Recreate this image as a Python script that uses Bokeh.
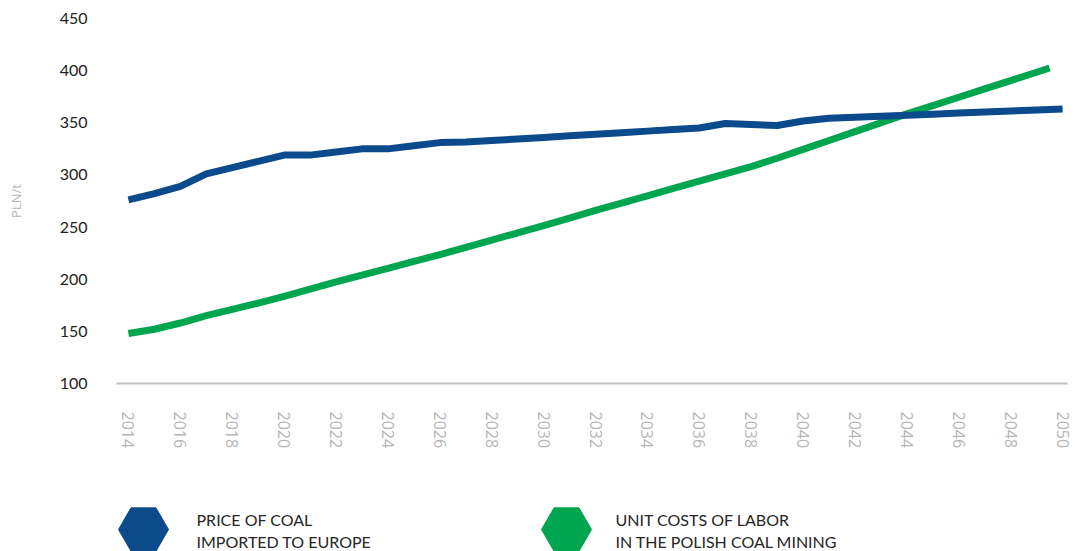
from bokeh.plotting import figure
from bokeh.models import Range1d, FixedTicker
from bokeh.layouts import column
from bokeh.embed import file_html
from bokeh.resources import INLINE
from bokeh.core.properties import value

# ---- data ----
years = list(range(2014, 2051))
coal_price = [276, 282, 289, 301, 307, 313, 319, 319, 322, 325,
              325, 328, 331, 331.5, 333, 334.5, 336, 337.5, 339, 340.5,
              342, 343.5, 345, 349.3, 348.4, 347.4, 351.7, 354.3, 355.3, 356.3,
              357.3, 358.3, 359.3, 360.3, 361.3, 362.3, 363.2]

labor_years = list(range(2014, 2050)) + [2049.5]
labor_cost = [148, 152, 158, 165, 171, 177, 183.5, 190.5, 197.5, 204,
              210.5, 217, 223.5, 230.5, 237.5, 244.5, 251.5, 258.5, 266, 273,
              280, 287, 294, 301, 308, 316, 324.5, 333, 341.5, 350,
              358.5, 366.5, 374.5, 382.5, 390.5, 398.5, 402.5]

x_ticks = list(range(2014, 2051, 2))
y_ticks = [100, 150, 200, 250, 300, 350, 400, 450]
y_title = "PLN/t"

series_names = [["PRICE OF COAL", "IMPORTED TO EUROPE"],
                ["UNIT COSTS OF LABOR", "IN THE POLISH COAL MINING"]]
series_colors = ["#0b4a8b", "#00a54f"]

W = 1075
LEFT, RIGHT = 116, 8

# ---- main chart ----
p = figure(width=W, height=478, output_backend="svg", toolbar_location=None,
           x_range=Range1d(2013.54, 2050.19), y_range=Range1d(100, 450),
           min_border_left=LEFT, min_border_right=RIGHT, min_border_top=18,
           min_border_bottom=95)
p.outline_line_color = None
p.grid.visible = False
p.background_fill_color = "white"

p.line(labor_years, labor_cost, line_color=series_colors[1], line_width=7,
       line_join="round")
p.line(years, coal_price, line_color=series_colors[0], line_width=7,
       line_join="round")

xa = p.xaxis[0]
xa.ticker = FixedTicker(ticks=x_ticks)
xa.axis_line_color = "#bfbfbf"
xa.axis_line_width = 2
xa.major_tick_line_color = None
xa.minor_tick_line_color = None
xa.major_tick_out = 0
xa.major_tick_in = 0
xa.major_label_orientation = "vertical"
xa.major_label_standoff = 28
xa.major_label_text_font = "Open Sans"
xa.major_label_text_font_size = "16px"
xa.major_label_text_color = "#b5b5b5"

ya = p.yaxis[0]
ya.ticker = FixedTicker(ticks=y_ticks)
ya.axis_line_color = None
ya.major_tick_line_color = None
ya.minor_tick_line_color = None
ya.major_tick_out = 0
ya.major_tick_in = 0
ya.major_label_standoff = 29
ya.major_label_text_font = "Lato"
ya.major_label_text_font_size = "16px"
ya.major_label_text_color = "#222222"
ya.axis_label = y_title
ya.axis_label_standoff = 32
ya.axis_label_text_font = "Open Sans"
ya.axis_label_text_font_size = "13px"
ya.axis_label_text_font_style = "normal"
ya.axis_label_text_color = "#b5b5b5"

# ---- legend row (coordinates in page pixels) ----
LH = 73
leg = figure(width=W, height=LH, output_backend="svg", toolbar_location=None,
             x_range=Range1d(LEFT, W - RIGHT), y_range=Range1d(0, LH),
             x_axis_type=None, y_axis_type=None,
             min_border_left=LEFT, min_border_right=RIGHT,
             min_border_top=0, min_border_bottom=0)
leg.outline_line_color = None
leg.grid.visible = False

hex_x = [143, 566]
text_x = [196, 615]
for i in range(2):
    leg.scatter([hex_x[i]], [22], marker="hex", size=50,
                fill_color=series_colors[i], line_color=series_colors[i])
    leg.text([text_x[i], text_x[i]], [32, 10], text=series_names[i],
             text_font=value("Lato"), text_font_size="16px",
             text_color="#262626", text_baseline="middle", text_align="left")

layout = column(p, leg, spacing=0)
open("out.html", "w").write(file_html(layout, INLINE))
